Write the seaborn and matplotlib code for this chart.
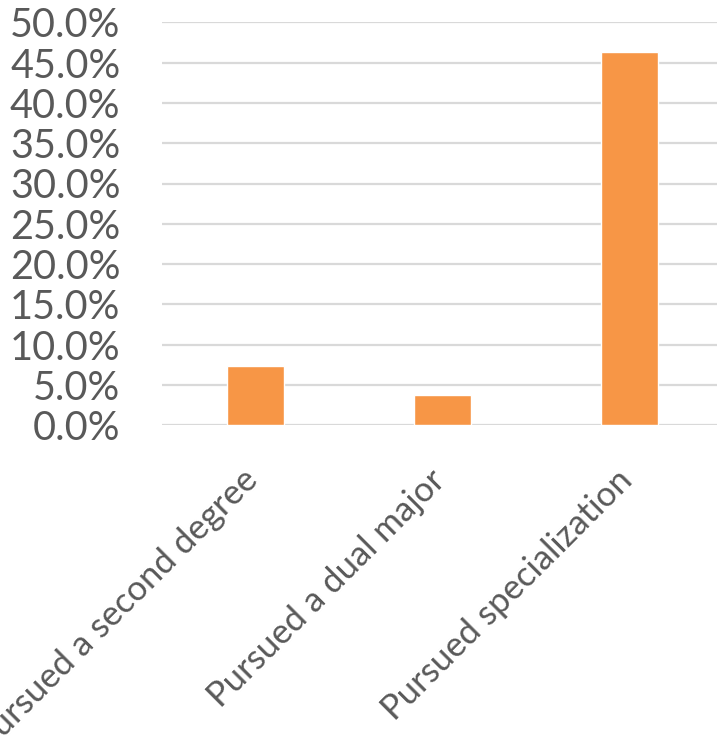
import matplotlib
matplotlib.use("Agg")
import matplotlib.pyplot as plt
import matplotlib.transforms as mtransforms
import seaborn as sns
import pandas as pd
from matplotlib.ticker import PercentFormatter, MultipleLocator

categories = ["Pursued a second degree", "Pursued a dual major", "Pursued specialization"]
shares = [7.4, 3.7, 46.3]

df = pd.DataFrame({"category": categories, "share": shares})

sns.set_theme(style="white")
plt.rcParams["font.family"] = ["Lato", "DejaVu Sans"]

fig = plt.figure(figsize=(7.17, 7.44), dpi=100)
W, H = 717, 744
left, right = 162, 717
bottom, top = 425.3, 22.3
ax = fig.add_axes([left / W, 1 - bottom / H, (right - left) / W, (bottom - top) / H])

sns.barplot(data=df, x="category", y="share", color="#F79646", width=0.31,
            saturation=1, ax=ax, zorder=3)

ax.set_ylim(0, 50)
ax.set_xlim(-0.5, -0.5 + (right - left) / 187)
ax.yaxis.set_major_locator(MultipleLocator(5))
ax.yaxis.set_major_formatter(PercentFormatter(decimals=1))
ax.grid(axis="y", color="#D9D9D9", linewidth=1.6, zorder=0)
ax.set_axisbelow(True)
for s in ax.spines.values():
    s.set_visible(False)
ax.set_xlabel("")
ax.set_ylabel("")
ax.tick_params(axis="y", length=0, pad=30, labelsize=28.5, labelcolor="#595959")
ax.tick_params(axis="x", length=0, pad=22, labelsize=25, labelcolor="#595959")

# rotated category labels, nudged slightly left and down
shift = mtransforms.ScaledTranslation(-14 / 100, -8 / 100, fig.dpi_scale_trans)
for lbl in ax.get_xticklabels():
    lbl.set_rotation(45)
    lbl.set_ha("right")
    lbl.set_rotation_mode("anchor")
    lbl.set_transform(lbl.get_transform() + shift)

fig.savefig("out.png", dpi=100)
